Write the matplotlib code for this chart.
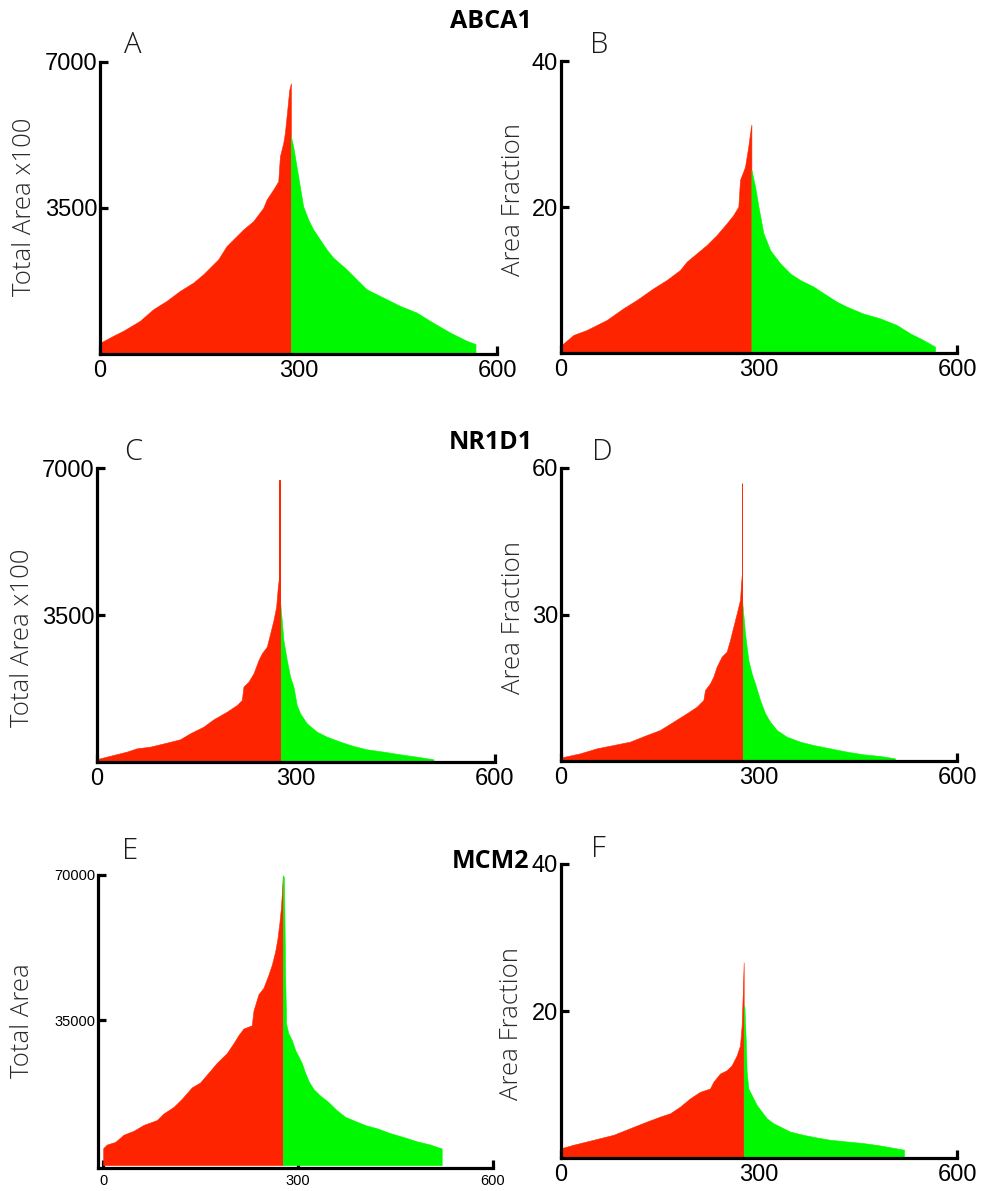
import matplotlib
matplotlib.use("Agg")
import matplotlib.pyplot as plt

W, H = 982, 1191

RED = "#FF2400"
GREEN = "#00F800"

# ---------------- data (rank, value) ----------------
# Panel A: ABCA1, Total Area x100
a_red_rank = [0, 1.5, 20.1, 35.2, 60.4, 80.6, 100.7, 120.8, 141, 156, 171.1, 178.7, 191.3, 201.4,
              216.5, 231.6, 246.7, 251.8, 261.8, 269.4, 271.9, 276.9, 279.4, 283, 286, 288.5]
a_red_val = [200, 279, 438, 557, 796, 1075, 1274, 1513, 1712, 1911, 2150, 2269, 2588, 2747,
             2986, 3185, 3504, 3703, 3942, 4141, 4738, 5056, 5295, 5852, 6330, 6490]
a_green_rank = [288.5, 292, 297, 302, 307, 314.7, 322.2, 332.3, 342.4, 352.5, 372.6, 387.7, 402.8,
                428, 453.2, 478.4, 498.5, 528.7, 553.9, 567.5]
a_green_val = [5215, 4976, 4498, 4021, 3543, 3225, 2986, 2747, 2508, 2309, 2031, 1792, 1553,
               1354, 1155, 995, 796, 518, 318, 239]

# Panel B: ABCA1, Area Fraction
b_red_rank = [0, 1, 18.7, 38.9, 69.2, 94.4, 114.6, 139.9, 160.1, 180.3, 190.4, 205.6, 220.7, 235.9,
              251, 261.1, 268.7, 271.2, 278.8, 283.8, 286.4, 288.5]
b_red_val = [0.8, 1.10, 2.47, 3.15, 4.52, 6.12, 7.26, 8.86, 10.0, 11.37, 12.51, 13.65, 14.79, 16.16,
             17.76, 18.90, 20.05, 23.7, 25.5, 28.3, 30.1, 31.3]
b_green_rank = [288.5, 294.1, 299.1, 306.7, 316.8, 331.9, 347.1, 362.3, 382.5, 397.6, 417.8, 432.9,
                458.1, 483.3, 508.6, 528.8, 549, 566.7]
b_green_val = [25.07, 22.8, 20.05, 16.4, 14.1, 12.3, 10.9, 10.0, 9.1, 8.2, 7.03, 6.35,
               5.4, 4.75, 3.84, 2.7, 1.78, 0.87]

# Panel C: NR1D1, Total Area x100
c_red_rank = [0, 4.5, 24.6, 44.7, 59.8, 80, 105.1, 125.2, 140.3, 160.5, 175.6, 195.7, 210.8, 218.3,
              220.8, 228.4, 235.9, 243.5, 248.5, 256, 261.1, 266.1, 270.1, 272.6, 275.2]
c_red_val = [60, 87, 167, 246, 325, 365, 460, 540, 683, 841, 1016, 1198, 1357, 1476,
             1794, 1913, 2111, 2429, 2587, 2746, 3063, 3381, 3698, 4175, 4492]
c_spike_rank, c_spike_val = 275.4, 6714
c_green_rank = [275.8, 278.5, 281, 286.1, 291.1, 296.1, 301.1, 306.2, 316.2, 331.3, 346.4, 366.5,
                386.6, 406.7, 431.8, 457, 482.1, 507.2]
c_green_val = [3857, 3381, 2905, 2429, 2032, 1794, 1357, 1159, 921, 722, 603, 484,
               381, 302, 246, 183, 127, 64]

# Panel D: NR1D1, Area Fraction
d_red_rank = [0, 1, 28.8, 54, 79.3, 104.5, 129.8, 150, 170.2, 190.4, 205.6, 215.7, 218.2, 225.8,
              230.8, 235.9, 243.4, 251, 256.1, 261.1, 266.2, 271.2, 273.8]
d_red_val = [0.5, 0.75, 1.56, 2.59, 3.27, 3.96, 5.32, 6.35, 8.05, 9.76, 11.12, 12.49, 14.54, 15.9,
             17.27, 19.32, 21.37, 22.39, 24.78, 27.5, 30.2, 33.0, 38.1]
d_spike_rank, d_spike_val = 274.2, 56.9
d_green_rank = [274.6, 278.8, 283.8, 288.9, 293.9, 301.5, 309.1, 316.7, 326.8, 341.9, 362.1, 382.3,
                407.6, 432.8, 458.1, 483.3, 506]
d_green_val = [32.6, 26.1, 20.7, 17.9, 15.9, 12.5, 9.8, 8.05, 6.35, 4.98, 3.96, 3.27,
               2.59, 1.91, 1.37, 1.03, 0.55]

# Panel E: MCM2, Total Area
e_red_rank = [0, 0.5, 5.6, 18.5, 31.3, 46.7, 62.1, 82.6, 92.8, 108.2, 121, 136.4, 149.2, 162.1,
              174.9, 190.3, 200.5, 208.2, 215.9, 228.7, 231.3, 239, 246.7, 254.4, 259.5, 264.6,
              268.2, 271.3, 273.8, 276.4]
e_red_val = [4000, 4172, 4960, 5591, 7326, 8271, 9690, 10873, 12449, 14026, 15997, 18756, 19938,
             22303, 24668, 27033, 29398, 31369, 32945, 33733, 37281, 41222, 42799, 45952, 48317,
             51471, 54624, 58565, 62507, 69600]
e_green_rank = [276.4, 278.2, 280, 281.5, 285.1, 290.3, 295.4, 300.5, 305.6, 310.8, 315.9, 323.6,
                333.8, 346.7, 359.5, 372.3, 390.3, 405.6, 421, 441.5, 462.1, 482.6, 503.1, 521]
e_green_val = [69900, 69500, 46740, 34125, 31763, 30186, 27821, 26245, 24668, 22303, 20332, 18361,
               16785, 15208, 13237, 11661, 10479, 9533, 8902, 7720, 6774, 5749, 4961, 4015]

# Panel F: MCM2, Area Fraction
f_red_rank = [0, 1, 18.7, 38.9, 59.1, 79.3, 104.5, 129.8, 150, 165.2, 180.3, 195.5, 210.6, 225.8,
              230.8, 240.9, 251, 258.6, 266.2, 271.2, 273.7, 275.3, 276.8]
f_red_val = [1.3, 1.35, 1.8, 2.25, 2.7, 3.15, 4.05, 4.95, 5.63, 6.08, 6.98, 8.11, 9.0, 9.46,
             10.36, 11.49, 11.94, 12.61, 13.96, 15.3, 18.0, 22.1, 26.6]
f_green_rank = [276.8, 277.8, 279.8, 281.3, 283.8, 288.9, 296.5, 304, 311.6, 321.7, 331.8, 347,
                367.2, 387.4, 407.6, 432.8, 458.1, 483.3, 519.7]
f_green_val = [20.7, 20.7, 16.2, 11.7, 9.46, 8.56, 7.21, 6.31, 5.41, 4.73, 4.28, 3.6,
               3.15, 2.79, 2.48, 2.25, 2.03, 1.71, 1.13]

x_ticks = [0, 300, 600]
x_tick_labels = ["0", "300", "600"]
a_yticks = [3500, 7000]
b_yticks = [20, 40]
c_yticks = [3500, 7000]
d_yticks = [30, 60]
e_yticks = [35000, 70000]
f_yticks = [20, 40]

titles = ["ABCA1", "NR1D1", "MCM2"]
letters = ["A", "B", "C", "D", "E", "F"]
ylabels = ["Total Area x100", "Area Fraction", "Total Area x100", "Area Fraction",
           "Total Area", "Area Fraction"]

# ---------------- figure ----------------
fig = plt.figure(figsize=(W / 100, H / 100), dpi=100)

TICK_FONT = "Liberation Sans"
LIGHT_FONT = ["Open Sans", "Lato", "DejaVu Sans"]


def rect(l, r, t, b):
    return [l / W, 1 - b / H, (r - l) / W, (b - t) / H]


panels = [
    dict(rect=rect(100, 497, 62, 354), red=(a_red_rank, a_red_val), green=(a_green_rank, a_green_val),
         spike=None, ylim=(0, 7000), yticks=a_yticks, xlim=(0, 600), fs=17),
    dict(rect=rect(561, 957, 61, 353), red=(b_red_rank, b_red_val), green=(b_green_rank, b_green_val),
         spike=None, ylim=(0, 40), yticks=b_yticks, xlim=(0, 600), fs=17),
    dict(rect=rect(97, 495, 468, 762), red=(c_red_rank, c_red_val), green=(c_green_rank, c_green_val),
         spike=(c_spike_rank, c_spike_val), ylim=(0, 7000), yticks=c_yticks, xlim=(0, 600), fs=17),
    dict(rect=rect(561, 957, 468, 761), red=(d_red_rank, d_red_val), green=(d_green_rank, d_green_val),
         spike=(d_spike_rank, d_spike_val), ylim=(0, 60), yticks=d_yticks, xlim=(0, 600), fs=17),
    dict(rect=rect(98, 493, 875, 1168), red=(e_red_rank, e_red_val), green=(e_green_rank, e_green_val),
         spike=None, ylim=(-700, 70000), yticks=e_yticks, xlim=(-8, 600), fs=10.5),
    dict(rect=rect(561, 957, 864, 1158), red=(f_red_rank, f_red_val), green=(f_green_rank, f_green_val),
         spike=None, ylim=(0, 40), yticks=f_yticks, xlim=(0, 600), fs=17),
]

for p in panels:
    ax = fig.add_axes(p["rect"])
    rr, rv = p["red"]
    gr, gv = p["green"]
    ax.fill_between(rr, rv, 0, facecolor=RED, edgecolor=RED, lw=0.4, zorder=2)
    ax.fill_between(gr, gv, 0, facecolor=GREEN, edgecolor=GREEN, lw=0.4, zorder=2)
    if p["spike"] is not None:
        ax.bar([p["spike"][0]], [p["spike"][1]], width=0.8, facecolor=RED, edgecolor=RED,
               lw=0.7, zorder=3)
    ax.set_xlim(*p["xlim"])
    ax.set_ylim(*p["ylim"])
    ax.set_xticks(x_ticks)
    ax.set_xticklabels(x_tick_labels)
    ax.set_yticks(p["yticks"])
    ax.set_yticklabels([str(v) for v in p["yticks"]])
    for s in ["top", "right"]:
        ax.spines[s].set_visible(False)
    for s in ["left", "bottom"]:
        ax.spines[s].set_linewidth(2.3)
        ax.spines[s].set_capstyle("projecting")
        ax.spines[s].set_zorder(4)
    ax.tick_params(direction="in", length=5.5, width=2.3, pad=4,
                   labelsize=p["fs"], colors="black")
    for lab in ax.get_xticklabels() + ax.get_yticklabels():
        lab.set_fontfamily(TICK_FONT)
    ax.tick_params(axis="y", pad=2)
    ax.patch.set_alpha(0)

# y labels (absolute positions)
ylabel_pos = [(25, 207), (513, 200), (23, 638), (513, 618), (23, 1021), (512, 1023)]
for (x, y), txt in zip(ylabel_pos, ylabels):
    fig.text(x / W, 1 - y / H, txt, rotation=90, ha="center", va="center",
             fontsize=18.5, family=LIGHT_FONT, fontweight="light", color="#2a2a2a")

# panel letters
letter_pos = [(133, 45), (599, 45), (133, 452), (602, 452), (130, 851), (598, 849)]
for (x, y), txt in zip(letter_pos, letters):
    fig.text(x / W, 1 - y / H, txt, ha="center", va="center",
             fontsize=21, family=LIGHT_FONT, fontweight="light", color="#1a1a1a")

# titles
title_pos = [(491, 22), (491, 443), (491, 862)]
for (x, y), txt in zip(title_pos, titles):
    fig.text(x / W, 1 - y / H, txt, ha="center", va="center",
             fontsize=18, family=["Open Sans", "DejaVu Sans"], fontweight="bold", color="black")

fig.savefig("out.png", dpi=100)
